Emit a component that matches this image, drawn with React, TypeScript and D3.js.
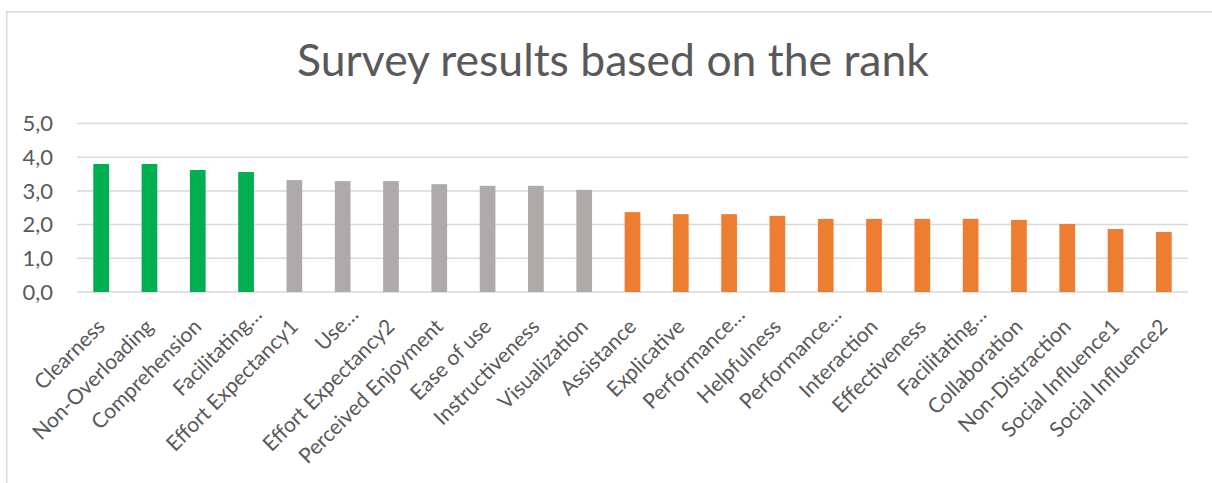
import React from "react";
import * as d3 from "d3";

const categories: string[] = [
  "Clearness", "Non-Overloading", "Comprehension", "Facilitating…", "Effort Expectancy1",
  "Use…", "Effort Expectancy2", "Perceived Enjoyment", "Ease of use", "Instructiveness",
  "Visualization", "Assistance", "Explicative", "Performance…", "Helpfulness",
  "Performance…", "Interaction", "Effectiveness", "Facilitating…", "Collaboration",
  "Non-Distraction", "Social Influence1", "Social Influence2",
];
const values: number[] = [
  3.8, 3.8, 3.62, 3.56, 3.32, 3.29, 3.29, 3.2, 3.15, 3.15, 3.03,
  2.37, 2.31, 2.31, 2.26, 2.17, 2.17, 2.17, 2.17, 2.14, 2.02, 1.87, 1.78,
];
const groups: string[] = [
  "top", "top", "top", "top",
  "mid", "mid", "mid", "mid", "mid", "mid", "mid",
  "low", "low", "low", "low", "low", "low", "low", "low", "low", "low", "low", "low",
];
const yTicks: number[] = [0, 1, 2, 3, 4, 5];
const title = "Survey results based on the rank";

const colors: Record<string, string> = { top: "#00B050", mid: "#AEAAAA", low: "#ED7D31" };
const W = 1212, H = 483;
const FONT = "Lato, 'Open Sans', sans-serif";
const TEXT = "#595959";

export default function App() {
  const x = d3.scaleBand<number>()
    .domain(categories.map((_, i) => i))
    .range([77, 1188])
    .paddingInner(0.675)
    .paddingOuter(0.3375);
  const y = d3.scaleLinear().domain([0, 5]).range([292, 123.5]);
  const fmt = (v: number) => d3.format(".1f")(v).replace(".", ",");

  return (
    <svg width={W} height={H} style={{ position: "absolute", left: 0, top: 0, display: "block", background: "#fff" }}>
      <rect x={6.75} y={11.75} width={W + 20} height={H + 20} fill="#fff" stroke="#D9D9D9" strokeWidth={1.5} />
      <text x={613} y={76} textAnchor="middle" fontFamily={FONT} fontSize={44.5} fill={TEXT}>{title}</text>
      {yTicks.map((t) => (
        <g key={t}>
          <line x1={77} x2={1188} y1={y(t)} y2={y(t)} stroke="#D9D9D9" strokeWidth={1.5} />
          <text x={53} y={y(t)} dy="0.35em" textAnchor="end" fontFamily={FONT} fontSize={22} fill={TEXT}>{fmt(t)}</text>
        </g>
      ))}
      {values.map((v, i) => (
        <rect key={i} x={x(i)} y={y(v)} width={x.bandwidth()} height={y(0) - y(v)} fill={colors[groups[i]]} />
      ))}
      {categories.map((c, i) => {
        const cx = (x(i) as number) + x.bandwidth() / 2;
        const truncated = c.endsWith("…");
        return (
          <text key={i} transform={`translate(${cx + 5},${328}) rotate(-45)`} dx={truncated ? 17 : 0}
            textAnchor="end" fontFamily={FONT} fontSize={21} fill={TEXT}>{c}</text>
        );
      })}
    </svg>
  );
}
